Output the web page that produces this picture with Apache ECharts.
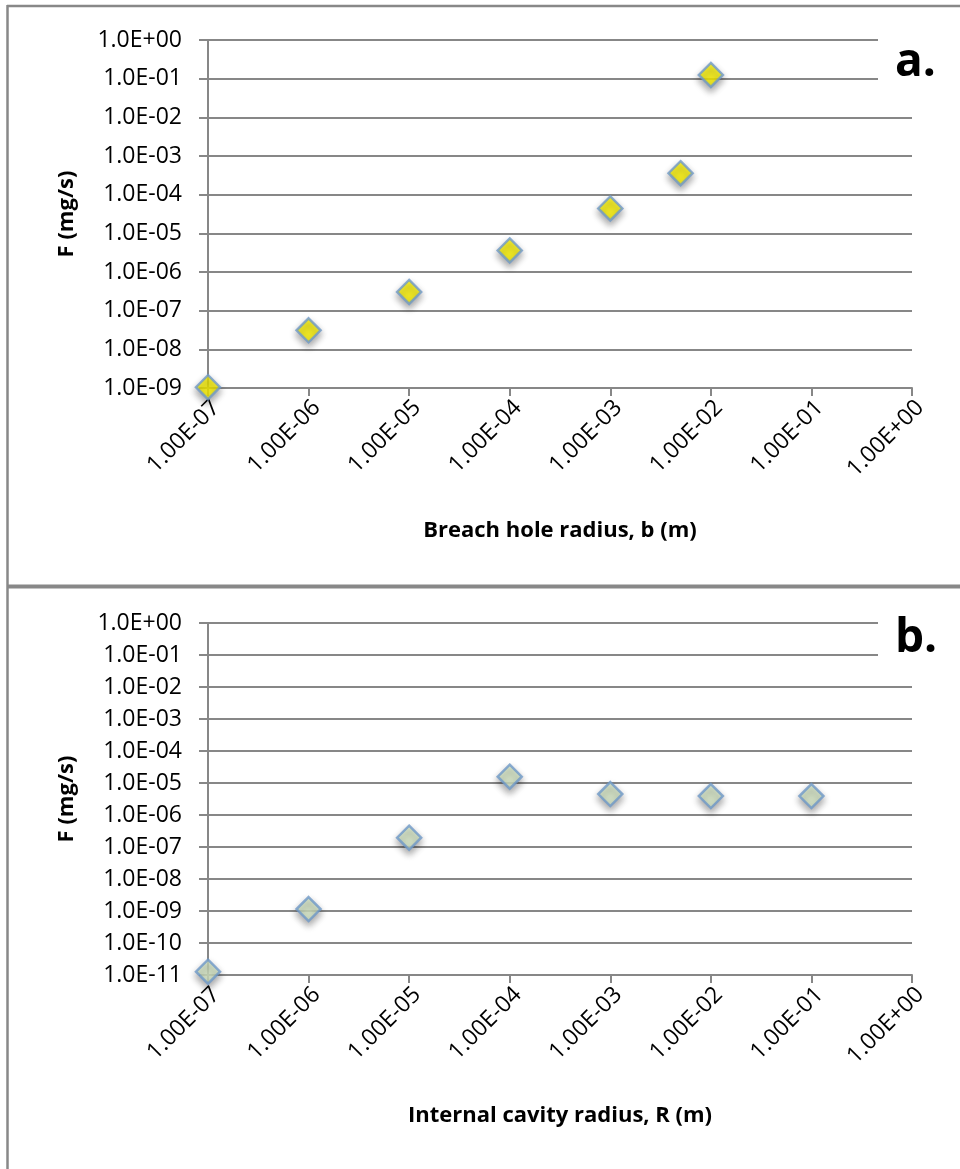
<!DOCTYPE html>
<html>
<head>
<meta charset="utf-8">
<script src="https://cdn.jsdelivr.net/npm/echarts@6/dist/echarts.min.js"></script>
<style>
html,body{margin:0;padding:0;background:#fff;}
#chart{width:960px;height:1169px;}
</style>
</head>
<body>
<div id="chart"></div>
<script>
// ---- data ----
const xTitleA = 'Breach hole radius, b (m)';
const xTitleB = 'Internal cavity radius, R (m)';
const yTitle = 'F (mg/s)';
const panelLabels = ['a.', 'b.'];

const breachRadius = [1e-7, 1e-6, 1e-5, 1e-4, 1e-3, 5e-3, 1e-2];
const breachFlux   = [1.05e-9, 3.1e-8, 3.05e-7, 3.6e-6, 4.4e-5, 3.6e-4, 1.25e-1];

const cavityRadius = [1e-7, 1e-6, 1e-5, 1e-4, 1e-3, 1e-2, 1e-1];
const cavityFlux   = [1.27e-11, 1.15e-9, 1.95e-7, 1.57e-5, 4.5e-6, 3.9e-6, 3.9e-6];

const xRange  = [1e-7, 1];
const yRangeA = [1e-9, 1];
const yRangeB = [1e-11, 1];

// ---- helpers ----
function sciLabel(v, decimals) {
  const e = Math.round(Math.log10(v));
  const sign = e < 0 ? '-' : '+';
  const a = Math.abs(e);
  return '1.' + '0'.repeat(decimals) + 'E' + sign + (a < 10 ? '0' + a : '' + a);
}

const GRAY = '#878787';
const FONT = 'Open Sans';

function xAxisCfg(gridIndex, title, gap) {
  return {
    type: 'log', logBase: 10, gridIndex: gridIndex,
    min: xRange[0], max: xRange[1], interval: 1, splitNumber: 7,
    name: title, nameLocation: 'middle', nameGap: gap,
    nameTextStyle: { fontFamily: FONT, fontWeight: 'bold', fontSize: 22, color: '#000' },
    axisLine: { show: true, lineStyle: { color: GRAY, width: 2 } },
    axisTick: { show: true, inside: false, length: 8, lineStyle: { color: GRAY, width: 2 } },
    splitLine: { show: false },
    minorTick: { show: false },
    axisLabel: {
      rotate: 45, margin: 8, interval: 0, verticalAlign: 'top',
      fontFamily: FONT, fontSize: 23, color: '#000',
      formatter: v => sciLabel(v, 2)
    }
  };
}
function yAxisCfg(gridIndex, range, splitN) {
  return {
    type: 'log', logBase: 10, gridIndex: gridIndex,
    min: range[0], max: range[1], interval: 1, splitNumber: splitN,
    name: yTitle, nameLocation: 'middle', nameGap: 130,
    nameTextStyle: { fontFamily: FONT, fontWeight: 'bold', fontSize: 22, color: '#000' },
    axisLine: { show: true, lineStyle: { color: GRAY, width: 2 } },
    axisTick: { show: true, inside: false, length: 9, lineStyle: { color: GRAY, width: 2 } },
    splitLine: { show: true, lineStyle: { color: GRAY, width: 2 } },
    minorTick: { show: false },
    axisLabel: {
      margin: 26, interval: 0,
      fontFamily: FONT, fontSize: 23, color: '#000',
      formatter: v => sciLabel(v, 1)
    }
  };
}

const chart = echarts.init(document.getElementById('chart'), null, { renderer: 'canvas' });

const markerBase = {
  borderColor: '#6E98C8', borderWidth: 2.5,
  shadowColor: 'rgba(0,0,0,0.4)', shadowBlur: 7, shadowOffsetY: 4
};

chart.setOption({
  animation: false,
  backgroundColor: '#fff',
  grid: [
    { left: 208, right: 48, top: 40, height: 348 },
    { left: 208, right: 48, top: 623, height: 352 }
  ],
  xAxis: [ xAxisCfg(0, xTitleA, 132), xAxisCfg(1, xTitleB, 130) ],
  yAxis: [ yAxisCfg(0, yRangeA, 9), yAxisCfg(1, yRangeB, 11) ],
  series: [
    {
      type: 'scatter', xAxisIndex: 0, yAxisIndex: 0,
      symbol: 'diamond', symbolSize: 24,
      itemStyle: Object.assign({ color: '#FFF500' }, markerBase),
      data: breachRadius.map((x, i) => [x, breachFlux[i]]),
      z: 5
    },
    {
      type: 'scatter', xAxisIndex: 1, yAxisIndex: 1,
      symbol: 'diamond', symbolSize: 24,
      itemStyle: Object.assign({ color: '#D8EAC8' }, markerBase),
      data: cavityRadius.map((x, i) => [x, cavityFlux[i]]),
      z: 5
    }
  ],
  graphic: [
    // panel borders
    { type: 'line', z: 100, shape: { x1: 7, y1: 6, x2: 960, y2: 6 }, style: { stroke: '#888', lineWidth: 2.5 } },
    { type: 'line', z: 100, shape: { x1: 7.5, y1: 5, x2: 7.5, y2: 1169 }, style: { stroke: '#888', lineWidth: 2.5 } },
    { type: 'line', z: 100, shape: { x1: 7, y1: 586.5, x2: 960, y2: 586.5 }, style: { stroke: '#888', lineWidth: 4 } },
    // white boxes behind panel letters (cut the gridlines)
    { type: 'rect', z: 50, shape: { x: 878, y: 30, width: 40, height: 62 }, style: { fill: '#fff' } },
    { type: 'rect', z: 50, shape: { x: 878, y: 612, width: 40, height: 60 }, style: { fill: '#fff' } },
    { type: 'text', z: 60, left: 895, top: 40, style: { text: panelLabels[0], font: 'bold 46px "Open Sans"', fill: '#000' } },
    { type: 'text', z: 60, left: 895, top: 616, style: { text: panelLabels[1], font: 'bold 46px "Open Sans"', fill: '#000' } }
  ]
});
</script>
</body>
</html>
